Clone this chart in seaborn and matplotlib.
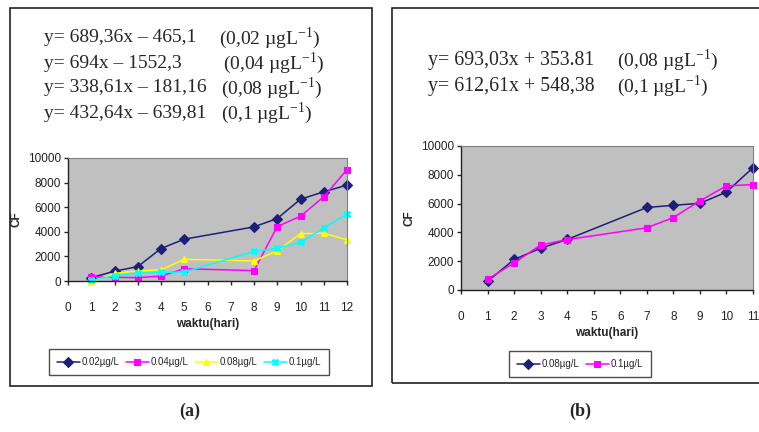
import matplotlib
matplotlib.use("Agg")
import matplotlib.pyplot as plt
import seaborn as sns
import pandas as pd
from matplotlib.patches import Rectangle

# ---- data panel (a)
days_a = [1, 2, 3, 4, 5, 8, 9, 10, 11, 12]
cf_002 = [270, 800, 1170, 2640, 3400, 4400, 5080, 6650, 7250, 7800]
cf_004 = [350, 300, 270, 400, 1000, 840, 4430, 5260, 6850, 9050]
cf_008a = [-100, 620, 820, 900, 1770, 1630, 2450, 3850, 3880, 3350]
cf_01a = [50, 420, 640, 700, 730, 2400, 2660, 3150, 4300, 5450]
labels_a = ["0.02\u00b5g/L", "0.04\u00b5g/L", "0.08\u00b5g/L", "0.1\u00b5g/L"]

# ---- data panel (b)
days_b = [1, 2, 3, 4, 7, 8, 9, 10, 11]
cf_008b = [600, 2120, 2900, 3510, 5730, 5880, 6020, 6800, 8500]
cf_01b = [740, 1880, 3120, 3500, 4320, 5030, 6190, 7230, 7320]
labels_b = ["0.08\u00b5g/L", "0.1\u00b5g/L"]

SUP = "$^{\\mathregular{-1}}$"
eq_a = ["y= 689,36x \u2013 465,1", "y= 694x \u2013 1552,3",
        "y= 338,61x \u2013 181,16", "y= 432,64x \u2013 639,81"]
conc_a = ["(0,02 \u00b5gL" + SUP + ")", "(0,04 \u00b5gL" + SUP + ")",
          "(0,08 \u00b5gL" + SUP + ")", "(0,1 \u00b5gL" + SUP + ")"]
eq_b = ["y= 693,03x + 353.81", "y= 612,61x + 548,38"]
conc_b = ["(0,08 \u00b5gL" + SUP + ")", "(0,1 \u00b5gL" + SUP + ")"]

sns.set_style("white")
plt.rcParams['font.family'] = ['Liberation Sans', 'DejaVu Sans']
plt.rcParams['mathtext.fontset'] = 'custom'
plt.rcParams['mathtext.rm'] = 'Liberation Serif'

df_a = pd.concat([pd.DataFrame({"day": days_a, "CF": v, "s": l})
                  for v, l in zip([cf_002, cf_004, cf_008a, cf_01a], labels_a)])
df_b = pd.concat([pd.DataFrame({"day": days_b, "CF": v, "s": l})
                  for v, l in zip([cf_008b, cf_01b], labels_b)])

W, H = 759, 432
fig = plt.figure(figsize=(W / 100, H / 100), dpi=100)

# panel boxes
fig.patches.append(Rectangle((10 / W, 1 - 386 / H), 362 / W, 378 / H, transform=fig.transFigure,
                             fill=False, ec="#222222", lw=1.2))
fig.patches.append(Rectangle((392 / W, 1 - 383 / H), 370 / W, 375 / H, transform=fig.transFigure,
                             fill=False, ec="#222222", lw=1.2))

def style_axes(ax, xmax):
    ax.set_facecolor("#C0C0C0")
    for s in ["top", "right"]:
        ax.spines[s].set_color("#808080")
        ax.spines[s].set_linewidth(0.8)
    for s in ["left", "bottom"]:
        ax.spines[s].set_color("#222222")
        ax.spines[s].set_linewidth(1.0)
    ax.set_xlim(0, xmax)
    ax.set_ylim(0, 10000)
    ax.set_xticks(range(0, xmax + 1))
    ax.set_yticks(range(0, 10001, 2000))
    ax.tick_params(axis="both", direction="out", length=3, width=1, labelsize=8.5,
                   labelcolor="#222222", pad=2, left=True, bottom=True)
    ax.tick_params(axis="x", pad=12)
    ax.set_xlabel("waktu(hari)", fontsize=8.5, fontweight="bold", labelpad=3)
    ax.set_ylabel("CF", fontsize=8.5, fontweight="bold", labelpad=4)
    ax.grid(False)

def style_legend(leg):
    leg.get_frame().set_edgecolor("#222222")
    leg.get_frame().set_linewidth(1.0)

# ---- panel (a)
ax1 = fig.add_axes([68 / W, 1 - 281 / H, 279 / W, 123 / H])
pal_a = ["#1F1F7A", "#FF00FF", "#FFFF00", "#00FFFF"]
sns.lineplot(data=df_a, x="day", y="CF", hue="s", style="s", palette=pal_a,
             markers=["D", "s", "^", "X"], dashes=False, markersize=5,
             markeredgewidth=0.8, linewidth=1.1, ax=ax1, clip_on=False)
for line in ax1.lines:
    line.set_markeredgecolor(line.get_color())
style_axes(ax1, 12)
leg = ax1.legend(loc="center", bbox_to_anchor=(189 / W, 1 - 362 / H),
                 bbox_transform=fig.transFigure, ncol=4, frameon=True, fontsize=7,
                 handlelength=2.4, columnspacing=0.6, handletextpad=0.2, borderpad=0.8,
                 borderaxespad=0, fancybox=False)
style_legend(leg)

conc_x_a = [219, 223, 221, 221]
for i, (t, c) in enumerate(zip(eq_a, conc_a)):
    y = 1 - (38 + 25 * i) / H
    fig.text(44 / W, y, t, fontsize=14, family="Liberation Serif", va="center", ha="left")
    fig.text(conc_x_a[i] / W, y, c, fontsize=14, family="Liberation Serif", va="center", ha="left")

# ---- panel (b)
ax2 = fig.add_axes([461 / W, 1 - 290 / H, 292 / W, 144 / H])
pal_b = ["#1F1F7A", "#FF00FF"]
sns.lineplot(data=df_b, x="day", y="CF", hue="s", style="s", palette=pal_b,
             markers=["D", "s"], dashes=False, markersize=5,
             markeredgewidth=0.8, linewidth=1.1, ax=ax2, clip_on=False)
for line in ax2.lines:
    line.set_markeredgecolor(line.get_color())
style_axes(ax2, 11)
leg2 = ax2.legend(loc="center", bbox_to_anchor=(580 / W, 1 - 364 / H),
                  bbox_transform=fig.transFigure, ncol=2, frameon=True, fontsize=7,
                  handlelength=2.4, columnspacing=0.6, handletextpad=0.2, borderpad=0.8,
                  borderaxespad=0, fancybox=False)
style_legend(leg2)

for i, (t, c) in enumerate(zip(eq_b, conc_b)):
    y = 1 - (60 + 26 * i) / H
    fig.text(428 / W, y, t, fontsize=14.3, family="Liberation Serif", va="center", ha="left")
    fig.text(617 / W, y, c, fontsize=14, family="Liberation Serif", va="center", ha="left")

fig.text(190 / W, 1 - 411 / H, "(a)", fontsize=13, fontweight="bold", family="Liberation Serif",
         ha="center", va="center")
fig.text(580 / W, 1 - 411 / H, "(b)", fontsize=13, fontweight="bold", family="Liberation Serif",
         ha="center", va="center")

fig.savefig("out.png", dpi=100)
